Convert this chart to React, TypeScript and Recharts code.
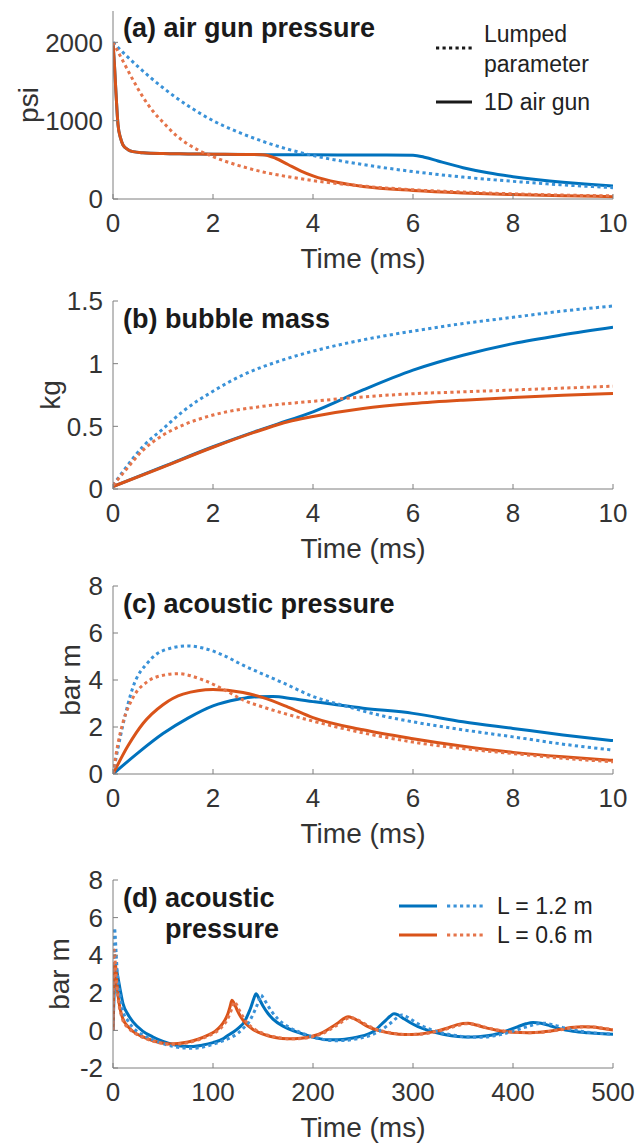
import React from 'react';
import { LineChart, Line, XAxis, YAxis } from 'recharts';

const FONT = '"Liberation Sans", Arial, Helvetica, sans-serif';
const BLUE = '#0072BD';
const ORANGE = '#D95319';
const BLUE_DOT = '#3a92d8';
const ORANGE_DOT = '#e5744a';
const AXIS = '#7f7f7f';
const TXT = '#333333';

// ---------- (a) air gun pressure (psi) ----------
const aBlueSolidT = [0, 0.03, 0.06, 0.1, 0.15, 0.2, 0.3, 0.4, 0.6, 1, 1.5, 2, 3, 4, 5, 6, 6.25, 6.5, 7, 7.5, 8, 8.5, 9, 9.5, 10];
const aBlueSolidV = [2000, 1700, 1350, 950, 780, 690, 630, 605, 590, 580, 576, 572, 566, 564, 562, 560, 530, 485, 400, 335, 285, 245, 213, 187, 165];
const aOrangeSolidT = [0, 0.03, 0.06, 0.1, 0.15, 0.2, 0.3, 0.4, 0.6, 1, 1.5, 2, 2.5, 3, 3.25, 3.5, 3.75, 4, 4.5, 5, 6, 7, 8, 9, 10];
const aOrangeSolidV = [2000, 1700, 1350, 950, 780, 690, 630, 605, 590, 580, 576, 572, 569, 566, 520, 440, 360, 295, 210, 160, 110, 78, 57, 42, 30];
const aBlueDotT = [0, 0.25, 0.5, 1, 1.5, 2, 2.5, 3, 3.5, 4, 5, 6, 7, 8, 9, 10];
const aBlueDotV = [2000, 1840, 1690, 1420, 1190, 1000, 855, 735, 635, 555, 440, 350, 280, 225, 180, 145];
const aOrangeDotT = [0, 0.2, 0.4, 0.6, 0.8, 1, 1.25, 1.5, 1.75, 2, 2.5, 3, 3.5, 4, 5, 6, 7, 8, 9, 10];
const aOrangeDotV = [2000, 1760, 1520, 1300, 1120, 980, 820, 700, 610, 540, 430, 345, 285, 235, 165, 118, 88, 66, 50, 40];

// ---------- (b) bubble mass (kg) ----------
const bBlueSolidT = [0, 1, 2, 3, 3.3, 4, 5, 6, 7, 8, 9, 10];
const bBlueSolidV = [0.02, 0.178, 0.337, 0.48, 0.52, 0.616, 0.79, 0.948, 1.067, 1.16, 1.23, 1.29];
const bOrangeSolidT = [0, 1, 2, 3, 3.5, 4, 5, 6, 7, 8, 9, 10];
const bOrangeSolidV = [0.02, 0.175, 0.333, 0.475, 0.536, 0.578, 0.642, 0.682, 0.709, 0.73, 0.748, 0.762];
const bBlueDotT = [0, 0.2, 0.6, 1, 1.4, 2, 2.6, 3.4, 4.2, 5, 6, 7, 8, 9, 10];
const bBlueDotV = [0.03, 0.14, 0.34, 0.48, 0.62, 0.78, 0.91, 1.03, 1.12, 1.19, 1.26, 1.32, 1.37, 1.42, 1.46];
const bOrangeDotT = [0, 0.2, 0.6, 1, 1.4, 2, 3, 4, 5, 6, 7, 8, 9, 10];
const bOrangeDotV = [0.03, 0.125, 0.31, 0.43, 0.51, 0.59, 0.66, 0.7, 0.735, 0.76, 0.775, 0.79, 0.805, 0.82];

// ---------- (c) acoustic pressure (bar m), 0-10 ms ----------
const cBlueSolidT = [0, 0.5, 1, 1.5, 2, 2.5, 2.8, 3.2, 3.6, 4, 5, 6, 7, 8, 9, 10];
const cBlueSolidV = [0, 0.9, 1.72, 2.38, 2.9, 3.18, 3.28, 3.3, 3.2, 3.08, 2.8, 2.58, 2.22, 1.94, 1.66, 1.42];
const cOrangeSolidT = [0, 0.3, 0.6, 1, 1.4, 2, 2.6, 3, 3.5, 4, 5, 6, 7, 8, 9, 10];
const cOrangeSolidV = [0, 1.2, 2.15, 2.95, 3.4, 3.6, 3.47, 3.25, 2.85, 2.4, 1.88, 1.5, 1.18, 0.92, 0.73, 0.58];
const cBlueDotT = [0, 0.1, 0.2, 0.4, 0.7, 1, 1.5, 1.8, 2.2, 2.6, 3, 3.4, 4, 4.6, 5.4, 6, 7, 8, 9, 10];
const cBlueDotV = [0, 1.1, 2.1, 3.7, 4.75, 5.25, 5.45, 5.36, 5.06, 4.63, 4.25, 3.88, 3.3, 2.92, 2.47, 2.22, 1.88, 1.58, 1.27, 1.02];
const cOrangeDotT = [0, 0.1, 0.2, 0.4, 0.7, 1, 1.3, 1.8, 2.3, 2.6, 3, 4, 5, 6, 7, 8, 9, 10];
const cOrangeDotV = [0, 1.3, 2.2, 3.25, 3.95, 4.2, 4.27, 4.0, 3.5, 3.15, 2.85, 2.25, 1.75, 1.36, 1.08, 0.87, 0.67, 0.52];

// ---------- (d) acoustic pressure (bar m), 0-500 ms ----------
const dBlueSolidT = [0, 0.4, 1, 2, 3, 5, 7, 10, 15, 20, 30, 40, 50, 60, 70, 80, 90, 100, 110, 114, 120, 126, 131, 135, 138, 141, 143, 146, 150, 155, 160, 171, 182, 192, 205, 215, 225, 235, 245, 255, 262, 268, 273, 277, 281, 285, 290, 297, 305, 315, 330, 345, 360, 372, 385, 395, 405, 413, 420, 428, 437, 447, 460, 475, 490, 500];
const dBlueSolidV = [0, 0.72, 1.73, 2.98, 3.3, 2.8, 2.22, 1.42, 0.85, 0.45, -0.05, -0.35, -0.58, -0.75, -0.84, -0.85, -0.78, -0.65, -0.45, -0.3, -0.1, 0.15, 0.42, 0.85, 1.25, 1.72, 1.95, 1.7, 1.3, 0.9, 0.6, 0.2, -0.05, -0.23, -0.42, -0.5, -0.5, -0.45, -0.35, -0.2, 0.0, 0.3, 0.55, 0.75, 0.88, 0.82, 0.65, 0.42, 0.2, 0.0, -0.2, -0.32, -0.35, -0.3, -0.18, 0.0, 0.2, 0.35, 0.42, 0.38, 0.25, 0.08, -0.05, -0.13, -0.18, -0.2];
const dOrangeSolidT = [0, 0.3, 0.6, 1, 1.4, 2, 3, 4, 5, 7, 10, 15, 20, 30, 40, 50, 57, 65, 75, 85, 95, 102, 108, 112, 115, 117, 119, 121, 124, 128, 133, 140, 150, 162, 175, 188, 200, 210, 218, 225, 230, 235, 240, 247, 255, 265, 278, 292, 305, 320, 333, 343, 350, 355, 362, 372, 385, 400, 415, 430, 445, 458, 470, 480, 490, 500];
const dOrangeSolidV = [0, 1.2, 2.15, 2.95, 3.4, 3.6, 3.25, 2.4, 1.88, 1.18, 0.6, 0.2, -0.05, -0.35, -0.55, -0.68, -0.72, -0.7, -0.62, -0.47, -0.25, -0.05, 0.25, 0.55, 0.9, 1.25, 1.6, 1.45, 1.1, 0.7, 0.35, 0.05, -0.2, -0.38, -0.45, -0.42, -0.3, -0.1, 0.15, 0.4, 0.6, 0.72, 0.65, 0.45, 0.2, 0.0, -0.15, -0.22, -0.2, -0.08, 0.1, 0.28, 0.37, 0.38, 0.3, 0.15, 0.0, -0.1, -0.12, -0.08, 0.03, 0.15, 0.2, 0.18, 0.1, 0.02];
const dBlueDotT = [0, 0.2, 0.4, 0.7, 1, 1.5, 2.2, 3, 4, 5.4, 7, 10, 15, 20, 30, 40, 50, 60, 70, 80, 90, 100, 110, 118, 125, 131, 136, 140, 143, 146, 148, 150, 154, 159, 165, 175, 187, 197, 210, 222, 235, 248, 258, 266, 273, 279, 284, 289, 293, 299, 306, 315, 325, 340, 355, 370, 383, 395, 405, 414, 422, 431, 440, 450, 463, 478, 490, 500];
const dBlueDotV = [0, 2.1, 3.7, 4.75, 5.25, 5.45, 5.06, 4.25, 3.3, 2.47, 1.88, 1.02, 0.5, 0.15, -0.25, -0.5, -0.7, -0.85, -0.93, -0.95, -0.88, -0.74, -0.55, -0.38, -0.15, 0.15, 0.45, 0.85, 1.2, 1.6, 1.88, 1.75, 1.4, 0.98, 0.6, 0.2, -0.1, -0.3, -0.48, -0.55, -0.52, -0.4, -0.25, -0.05, 0.2, 0.45, 0.68, 0.82, 0.75, 0.55, 0.32, 0.1, -0.08, -0.25, -0.35, -0.36, -0.27, -0.12, 0.05, 0.2, 0.32, 0.38, 0.3, 0.15, 0.0, -0.12, -0.17, -0.2];
const dOrangeDotT = [0, 0.1, 0.2, 0.4, 0.7, 1.3, 1.8, 2.6, 4, 6, 8, 10, 15, 20, 30, 40, 50, 58, 67, 77, 87, 97, 104, 110, 114, 117, 119, 121, 123, 126, 130, 135, 142, 152, 165, 178, 190, 202, 212, 220, 227, 232, 237, 242, 249, 257, 267, 280, 294, 307, 322, 335, 345, 352, 357, 364, 374, 387, 402, 417, 432, 447, 460, 472, 482, 492, 500];
const dOrangeDotV = [0, 1.3, 2.2, 3.25, 3.95, 4.27, 4.0, 3.15, 2.25, 1.36, 0.87, 0.52, 0.15, -0.08, -0.38, -0.57, -0.7, -0.74, -0.72, -0.63, -0.47, -0.25, -0.05, 0.25, 0.55, 0.9, 1.2, 1.52, 1.42, 1.1, 0.72, 0.35, 0.05, -0.2, -0.38, -0.45, -0.42, -0.3, -0.1, 0.15, 0.38, 0.57, 0.68, 0.62, 0.43, 0.2, 0.0, -0.15, -0.22, -0.2, -0.08, 0.1, 0.26, 0.35, 0.36, 0.29, 0.14, 0.0, -0.1, -0.12, -0.08, 0.03, 0.14, 0.19, 0.17, 0.1, 0.04];

// ---------- axes ----------
const msTicks = [0, 2, 4, 6, 8, 10];
const longTicks = [0, 100, 200, 300, 400, 500];
const aYTicks = [0, 1000, 2000];
const bYTicks = [0, 0.5, 1, 1.5];
const cYTicks = [0, 2, 4, 6, 8];
const dYTicks = [-2, 0, 2, 4, 6, 8];

const zip = (ts: number[], vs: number[]) => ts.map((t, i) => ({ t, v: vs[i] }));

type S = { id: string; data: { t: number; v: number }[]; color: string; dotted: boolean };

const mk = (bs: [number[], number[]], os: [number[], number[]], bd: [number[], number[]], od: [number[], number[]]): S[] => [
  { id: 'bs', data: zip(bs[0], bs[1]), color: BLUE, dotted: false },
  { id: 'os', data: zip(os[0], os[1]), color: ORANGE, dotted: false },
  { id: 'bd', data: zip(bd[0], bd[1]), color: BLUE_DOT, dotted: true },
  { id: 'od', data: zip(od[0], od[1]), color: ORANGE_DOT, dotted: true },
];

const PLOT_H = 188;
const TOPM = 22;

function Panel(props: {
  plotTop: number;
  xDomain: [number, number];
  xTicks: number[];
  yDomain: [number, number];
  yTicks: number[];
  yLabel: string;
  yLabelX: number;
  series: S[];
  children?: React.ReactNode;
}) {
  const { plotTop, xDomain, xTicks, yDomain, yTicks, yLabel, yLabelX, series, children } = props;
  const H = TOPM + PLOT_H + 72;
  const tickStyle = { fill: TXT, fontSize: 26, fontFamily: FONT };
  const cy = PLOT_H / 2;
  return (
    <div style={{ position: 'absolute', left: 0, top: plotTop - TOPM, width: 636, height: H }}>
      <LineChart width={636} height={H} margin={{ top: TOPM, right: 23, bottom: 0, left: 0 }}>
        <XAxis xAxisId="b" type="number" dataKey="t" domain={xDomain} ticks={xTicks} interval={0}
          allowDataOverflow orientation="bottom" height={72} tickSize={-5} tickMargin={20}
          stroke={AXIS} tickLine={{ stroke: AXIS }} tick={tickStyle} />
        <XAxis xAxisId="t" type="number" dataKey="t" domain={xDomain} ticks={xTicks} interval={0}
          allowDataOverflow orientation="top" height={0} tickSize={-5} stroke={AXIS} tick={false} />
        <YAxis yAxisId="l" type="number" domain={yDomain} ticks={yTicks} interval={0}
          allowDataOverflow width={113} tickSize={-5} tickMargin={15}
          stroke={AXIS} tickLine={{ stroke: AXIS }} tick={tickStyle} />
        <YAxis yAxisId="r" type="number" orientation="right" domain={yDomain} ticks={yTicks} interval={0}
          allowDataOverflow width={0} tickSize={-5} stroke={AXIS} tick={false} />
        {series.map((s) => (
          <Line key={s.id} xAxisId="b" yAxisId="l" data={s.data} dataKey="v" type="monotone"
            stroke={s.color} strokeWidth={3} strokeDasharray={s.dotted ? '3.2 3.3' : undefined}
            strokeLinecap="butt" strokeLinejoin="round" dot={false} activeDot={false}
            isAnimationActive={false} />
        ))}
      </LineChart>
      <svg width={636} height={H} style={{ position: 'absolute', left: 0, top: 0, overflow: 'visible', pointerEvents: 'none' }}>
        <g transform={`translate(0 ${TOPM})`}>
          <text x={363} y={PLOT_H + 69} textAnchor="middle" fontFamily={FONT} fontSize={28} fill={TXT}>Time (ms)</text>
          <text x={yLabelX} y={cy} transform={`rotate(-90 ${yLabelX} ${cy})`} textAnchor="middle"
            dominantBaseline="central" fontFamily={FONT} fontSize={28} fill={TXT}>{yLabel}</text>
          {children}
        </g>
      </svg>
    </div>
  );
}

const titleProps = { fontFamily: FONT, fontSize: 27, fontWeight: 700, fill: '#1a1a1a' };
const legProps = { fontFamily: FONT, fontSize: 23, fill: '#222222' };

export default function App() {
  const aSeries = mk([aBlueSolidT, aBlueSolidV], [aOrangeSolidT, aOrangeSolidV], [aBlueDotT, aBlueDotV], [aOrangeDotT, aOrangeDotV]);
  const bSeries = mk([bBlueSolidT, bBlueSolidV], [bOrangeSolidT, bOrangeSolidV], [bBlueDotT, bBlueDotV], [bOrangeDotT, bOrangeDotV]);
  const cSeries = mk([cBlueSolidT, cBlueSolidV], [cOrangeSolidT, cOrangeSolidV], [cBlueDotT, cBlueDotV], [cOrangeDotT, cOrangeDotV]);
  const dSeries = mk([dBlueSolidT, dBlueSolidV], [dOrangeSolidT, dOrangeSolidV], [dBlueDotT, dBlueDotV], [dOrangeDotT, dOrangeDotV]);
  return (
    <div style={{ position: 'absolute', left: 0, top: 0, width: 636, height: 1143, background: '#ffffff' }}>
      <Panel plotTop={11} xDomain={[0, 10]} xTicks={msTicks} yDomain={[0, 2400]} yTicks={aYTicks}
        yLabel="psi" yLabelX={28} series={aSeries}>
        <text x={123} y={26} {...titleProps}>(a) air gun pressure</text>
        <line x1={436} x2={472} y1={37} y2={37} stroke="#1a1a1a" strokeWidth={3} strokeDasharray="3.2 3.3" />
        <text x={484} y={31} {...legProps}>Lumped</text>
        <text x={484} y={61} {...legProps}>parameter</text>
        <line x1={436} x2={472} y1={91} y2={91} stroke="#1a1a1a" strokeWidth={3} />
        <text x={484} y={99} {...legProps}>1D air gun</text>
      </Panel>
      <Panel plotTop={301} xDomain={[0, 10]} xTicks={msTicks} yDomain={[0, 1.5]} yTicks={bYTicks}
        yLabel="kg" yLabelX={50} series={bSeries}>
        <text x={123} y={27} {...titleProps}>(b) bubble mass</text>
      </Panel>
      <Panel plotTop={586} xDomain={[0, 10]} xTicks={msTicks} yDomain={[0, 8]} yTicks={cYTicks}
        yLabel="bar m" yLabelX={70} series={cSeries}>
        <text x={123} y={27} {...titleProps}>(c) acoustic pressure</text>
      </Panel>
      <Panel plotTop={880} xDomain={[0, 500]} xTicks={longTicks} yDomain={[-2, 8]} yTicks={dYTicks}
        yLabel="bar m" yLabelX={59} series={dSeries}>
        <text x={123} y={27} {...titleProps}>(d) acoustic</text>
        <text x={165} y={58} {...titleProps}>pressure</text>
        <line x1={399} x2={437} y1={26} y2={26} stroke={BLUE} strokeWidth={3} />
        <line x1={447} x2={484} y1={26} y2={26} stroke={BLUE_DOT} strokeWidth={3} strokeDasharray="3.2 3.3" />
        <text x={497} y={34} {...legProps}>L = 1.2 m</text>
        <line x1={399} x2={437} y1={55} y2={55} stroke={ORANGE} strokeWidth={3} />
        <line x1={447} x2={484} y1={55} y2={55} stroke={ORANGE_DOT} strokeWidth={3} strokeDasharray="3.2 3.3" />
        <text x={497} y={63} {...legProps}>L = 0.6 m</text>
      </Panel>
    </div>
  );
}
